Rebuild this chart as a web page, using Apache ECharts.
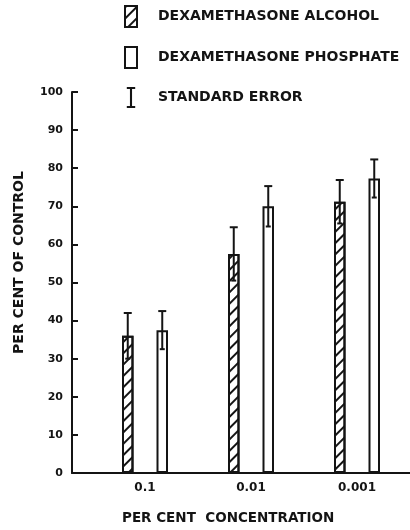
<!DOCTYPE html>
<html>
<head>
<meta charset="utf-8">
<script src="https://cdn.jsdelivr.net/npm/echarts@6/dist/echarts.min.js"></script>
<style>html,body{margin:0;padding:0;background:#fff}#c{width:410px;height:530px}</style>
</head>
<body>
<div id="c"></div>
<script>
var categories = ['0.1', '0.01', '0.001'];
var alcoholValues = [36, 57.5, 71.2];
var alcoholErrors = [6, 7, 5.7];
var phosphateValues = [37.5, 70, 77.3];
var phosphateErrors = [5, 5.3, 5];
var yTicks = [0, 10, 20, 30, 40, 50, 60, 70, 80, 90, 100];

var FONT = 'DejaVu Sans';
var INK = '#141414';
var chart = echarts.init(document.getElementById('c'), null, {renderer: 'canvas'});

var BAR_W = 11.5;
var BAR_GAP = 2.0; // fraction of bar width
var OFF = (BAR_W + BAR_W * BAR_GAP) / 2;

var errData = [];
alcoholValues.forEach(function (v, i) { errData.push([i, v - alcoholErrors[i], v + alcoholErrors[i], -1]); });
phosphateValues.forEach(function (v, i) { errData.push([i, v - phosphateErrors[i], v + phosphateErrors[i], 1]); });

var option = {
  backgroundColor: '#fff',
  animation: false,
  title: {
    text: 'PER CENT  CONCENTRATION',
    left: 117, bottom: 0,
    textStyle: {fontFamily: FONT, fontSize: 13.5, fontWeight: 'bold', color: INK}
  },
  legend: {
    orient: 'vertical',
    left: 119, top: 0,
    itemWidth: 12, itemHeight: 21, itemGap: 18,
    textStyle: {fontFamily: FONT, fontSize: 14, fontWeight: 'bold', color: INK, padding: [0, 0, 0, 16]},
    data: [
      {name: 'DEXAMETHASONE ALCOHOL', icon: 'rect'},
      {name: 'DEXAMETHASONE PHOSPHATE', icon: 'rect'},
      {name: 'STANDARD ERROR', icon: 'path://M0,0H8V2H5V18H8V20H0V18H3V2H0Z'}
    ]
  },
  grid: [
    {left: 92, width: 330, top: 92, bottom: 57},
    {left: 72, right: 0, top: 92, bottom: 57}
  ],
  xAxis: [
    {
      type: 'category', gridIndex: 0, data: categories,
      axisLine: {show: false}, axisTick: {show: false},
      axisLabel: {fontFamily: FONT, fontSize: 12, fontWeight: 'bold', color: INK, margin: 9}
    },
    {
      type: 'value', gridIndex: 1, min: 0, max: 1,
      axisLine: {show: true, lineStyle: {color: INK, width: 2}},
      axisTick: {show: false}, axisLabel: {show: false}, splitLine: {show: false}
    }
  ],
  yAxis: [
    {type: 'value', gridIndex: 0, min: 0, max: 100, show: false},
    {
      type: 'value', gridIndex: 1, min: 0, max: 100, interval: 10,
      name: 'PER CENT OF CONTROL', nameLocation: 'middle', nameGap: 46, nameRotate: 90,
      nameTextStyle: {fontFamily: FONT, fontSize: 14, fontWeight: 'bold', color: INK, padding: [0, 0, 0, 40]},
      axisLine: {show: true, lineStyle: {color: INK, width: 2}},
      axisTick: {show: true, inside: true, length: 6, lineStyle: {color: INK, width: 2}},
      axisLabel: {fontFamily: FONT, fontSize: 11, fontWeight: 'bold', color: INK, margin: 9,
        formatter: function (v) { return yTicks.indexOf(v) >= 0 ? String(v) : ''; }},
      splitLine: {show: false}
    }
  ],
  series: [
    {
      name: 'DEXAMETHASONE ALCOHOL', type: 'bar', xAxisIndex: 0, yAxisIndex: 0,
      data: alcoholValues, barWidth: BAR_W, barGap: (BAR_GAP * 100) + '%',
      itemStyle: {
        color: '#fff', borderColor: INK, borderWidth: 2,
        decal: {symbol: 'rect', symbolSize: 1, dashArrayX: [[1, 0]], dashArrayY: [1.6, 5.5], rotation: -Math.PI / 4, color: INK}
      }
    },
    {
      name: 'DEXAMETHASONE PHOSPHATE', type: 'bar', xAxisIndex: 0, yAxisIndex: 0,
      data: phosphateValues, barWidth: BAR_W,
      itemStyle: {color: '#fff', borderColor: INK, borderWidth: 2}
    },
    {
      name: 'STANDARD ERROR', type: 'custom', xAxisIndex: 0, yAxisIndex: 0, z: 10,
      itemStyle: {color: INK},
      data: errData,
      renderItem: function (params, api) {
        var i = api.value(0);
        var lo = api.coord([i, api.value(1)]);
        var hi = api.coord([i, api.value(2)]);
        var x = lo[0] + api.value(3) * OFF;
        var st = {stroke: INK, lineWidth: 2, fill: null};
        return {
          type: 'group',
          children: [
            {type: 'line', z2: 10, shape: {x1: x, y1: hi[1], x2: x, y2: lo[1]}, style: st},
            {type: 'line', z2: 10, shape: {x1: x - 4, y1: hi[1], x2: x + 4, y2: hi[1]}, style: st},
            {type: 'line', z2: 10, shape: {x1: x - 2.5, y1: lo[1], x2: x + 2.5, y2: lo[1]}, style: st}
          ]
        };
      }
    }
  ]
};
chart.setOption(option);
</script>
</body>
</html>
